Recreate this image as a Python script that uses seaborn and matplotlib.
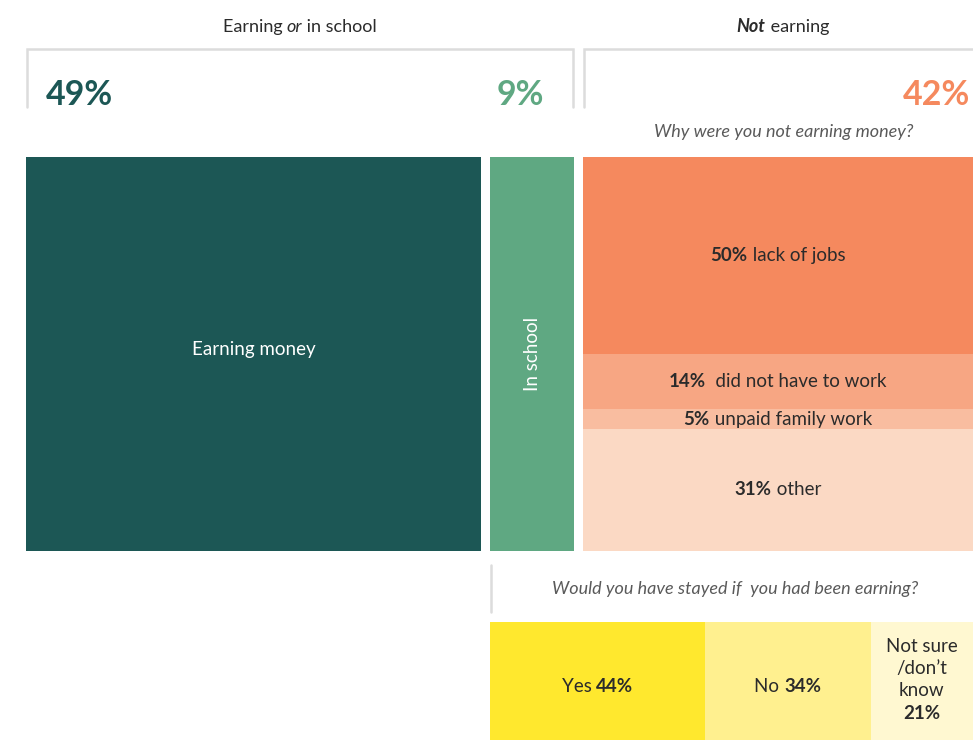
"""
Marimekko-style breakdown: earning / in school / not earning,
with reasons for not earning and a follow-up question.
"""

import numpy as np
import matplotlib
matplotlib.use("Agg")
import matplotlib.pyplot as plt
import seaborn as sns

sns.set_theme(style="white")
plt.rcParams["font.family"] = ["Lato", "DejaVu Sans"]

# ---- data -------------------------------------------------------------
status_labels = ["Earning money", "In school", "Not earning"]
status_shares = [49, 9, 42]
status_colors = ["#1c5755", "#5fa882", "#f5895e"]

reason_labels = ["lack of jobs", "did not have to work", "unpaid family work", "other"]
reason_shares = [50, 14, 5, 31]
reason_colors = ["#f5895e", "#f7a683", "#f9bda0", "#fbd9c4"]

stay_labels = ["Yes", "No", "Not sure\n/don\u2019t\nknow"]
stay_shares = [44, 34, 21]
stay_colors = ["#ffe82e", "#fff08f", "#fff8d1"]

TEXT = "#2b2b2b"
GREY = "#5a5a5a"
FS = 13.5

# ---- canvas in pixel units ---------------------------------------------
W, H = 973, 740
fig = plt.figure(figsize=(W / 100, H / 100), dpi=100)
ax = fig.add_axes([0, 0, 1, 1])
ax.set_xlim(0, W)
ax.set_ylim(H, 0)
ax.axis("off")
renderer = fig.canvas.get_renderer()


def rich_text(x, y, parts, ha="center", size=FS, color=TEXT):
    """Draw text pieces (text, weight, style) side by side."""
    objs, widths = [], []
    for s, weight, style in parts:
        t = ax.text(0, y, s, fontsize=size, fontweight=weight, fontstyle=style,
                    color=color, ha="left", va="center")
        objs.append(t)
        widths.append(t.get_window_extent(renderer).width)
    total = sum(widths)
    start = {"center": x - total / 2, "left": x, "right": x - total}[ha]
    for t, w in zip(objs, widths):
        t.set_x(start)
        start += w


# ---- main columns -----------------------------------------------------
left0, right0, gap = 26, 973, 9
top, bottom = 157, 551
unit = (right0 - left0 - gap * (len(status_shares) - 1)) / sum(status_shares)
widths = np.array(status_shares) * unit
lefts = left0 + np.concatenate([[0], np.cumsum(widths + gap)[:-1]])

for i in range(2):
    ax.bar(lefts[i], bottom - top, width=widths[i], bottom=top, align="edge",
           color=status_colors[i], linewidth=0)

ax.text(lefts[0] + widths[0] / 2, (top + bottom) / 2 - 4, status_labels[0],
        color="white", fontsize=FS, ha="center", va="center")
ax.text(lefts[1] + widths[1] / 2, (top + bottom) / 2, status_labels[1],
        color="white", fontsize=FS, ha="center", va="center", rotation=90)

# not earning column stacked by reason
ne_left, ne_w = lefts[2], widths[2]
seg_h = np.array(reason_shares) / sum(reason_shares) * (bottom - top)
seg_b = top + np.concatenate([[0], np.cumsum(seg_h)[:-1]])
for lab, share, h, b, c in zip(reason_labels, reason_shares, seg_h, seg_b, reason_colors):
    ax.bar(ne_left, h, width=ne_w, bottom=b, align="edge", color=c, linewidth=0)
    sep = "  " if share == 14 else " "
    rich_text(ne_left + ne_w / 2, b + h / 2, [(f"{share}%", "bold", "normal"),
                                              (sep + lab, "normal", "normal")])

ax.text(ne_left + ne_w / 2 + 6, 132, "Why were you not earning money?",
        fontsize=13, fontstyle="italic", color=GREY, ha="center", va="center")

# ---- header brackets ---------------------------------------------------
groups = [(lefts[0], lefts[1] + widths[1]), (lefts[2], W + 4)]
bx_top, bx_bot = 49, 107
for x0, x1 in groups:
    ax.plot([x0 + 1, x0 + 1, x1 - 1, x1 - 1], [bx_bot, bx_top, bx_top, bx_bot],
            color="#dcdcdc", lw=1.8, solid_joinstyle="miter", clip_on=False)

rich_text(sum(groups[0]) / 2, 27,
          [("Earning ", "normal", "normal"), ("or", "normal", "italic"),
           (" in school", "normal", "normal")], size=13)
rich_text((lefts[2] + W) / 2 + 5, 27,
          [("Not", "bold", "italic"), (" earning", "normal", "normal")], size=13)

big = dict(fontsize=24.5, fontweight="bold", va="center")
ax.text(lefts[0] + 20, 95, f"{status_shares[0]}%", color=status_colors[0], ha="left", **big)
ax.text(lefts[1] + widths[1] - 30, 95, f"{status_shares[1]}%", color=status_colors[1],
        ha="right", **big)
ax.text(W - 3, 95, f"{status_shares[2]}%", color=status_colors[2], ha="right", **big)

# ---- follow-up question ------------------------------------------------
q_left = lefts[1]
ax.plot([q_left + 1, q_left + 1], [565, 612], color="#dcdcdc", lw=1.8)
ax.text((q_left + W) / 2 + 4, 589, "Would you have stayed if  you had been earning?",
        fontsize=13, fontstyle="italic", color=GREY, ha="center", va="center")

s_top, s_h = 622, 128
s_unit = (W - q_left) / sum(stay_shares)
s_w = np.array(stay_shares) * s_unit
s_l = q_left + np.concatenate([[0], np.cumsum(s_w)[:-1]])
ax.barh(s_top, s_w, left=s_l, height=s_h, align="edge", color=stay_colors, linewidth=0)

mid = s_top + s_h / 2
for lab, share, l, w in zip(stay_labels[:2], stay_shares[:2], s_l, s_w):
    rich_text(l + w / 2, mid, [(lab + " ", "normal", "normal"), (f"{share}%", "bold", "normal")])
lines = stay_labels[2].split("\n")
for k, ln in enumerate(lines):
    ax.text(s_l[2] + s_w[2] / 2, 646 + 22.5 * k, ln, fontsize=FS, color=TEXT,
            ha="center", va="center")
ax.text(s_l[2] + s_w[2] / 2, 646 + 22.5 * len(lines), f"{stay_shares[2]}%", fontsize=FS,
        fontweight="bold", color=TEXT, ha="center", va="center")

fig.savefig("out.png", dpi=100)
plt.close(fig)
